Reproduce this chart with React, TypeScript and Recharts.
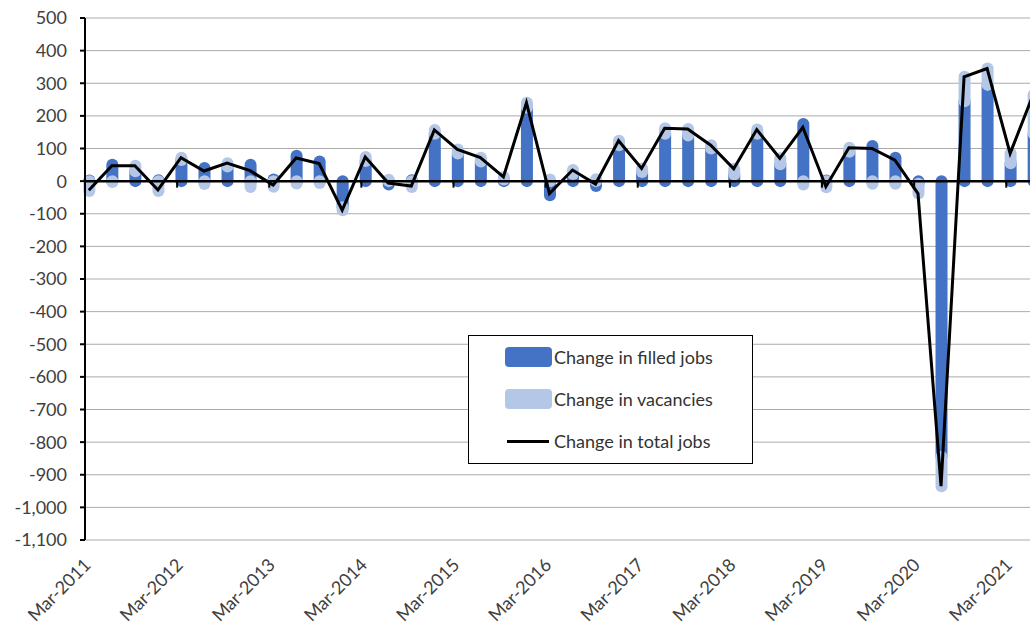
import React from "react"
import { ComposedChart, Bar, Line, XAxis, YAxis, CartesianGrid, ReferenceLine, Legend } from "recharts"

const quarters = [
  "Mar-2011", "Jun-2011", "Sep-2011", "Dec-2011",
  "Mar-2012", "Jun-2012", "Sep-2012", "Dec-2012",
  "Mar-2013", "Jun-2013", "Sep-2013", "Dec-2013",
  "Mar-2014", "Jun-2014", "Sep-2014", "Dec-2014",
  "Mar-2015", "Jun-2015", "Sep-2015", "Dec-2015",
  "Mar-2016", "Jun-2016", "Sep-2016", "Dec-2016",
  "Mar-2017", "Jun-2017", "Sep-2017", "Dec-2017",
  "Mar-2018", "Jun-2018", "Sep-2018", "Dec-2018",
  "Mar-2019", "Jun-2019", "Sep-2019", "Dec-2019",
  "Mar-2020", "Jun-2020", "Sep-2020", "Dec-2020",
  "Mar-2021", "Jun-2021",
]

// change in filled jobs, thousands
const filledJobs = [
  2, 50, 30, 3, 65, 40, 45, 50, 5, 78, 60, -80,
  62, -10, 3, 145, 85, 60, 5, 225, -43, 22, -15, 110,
  28, 145, 140, 100, 20, 145, 52, 175, 2, 90, 108, 72,
  -8, -845, 245, 295, 55, 145,
]

// change in vacancies
const vacancies = [
  -30, -3, 17, -30, 7, -9, 10, -18, -17, -7, -6, -9,
  12, 4, -18, 12, 12, 12, 8, 15, 5, 12, 6, 14,
  11, 17, 20, 10, 18, 13, 18, -10, -19, 12, -8, -8,
  -30, -90, 75, 50, 30, 120,
]

// change in total jobs (line)
const totalJobs = [
  -28, 47, 47, -27, 72, 31, 55, 32, -12, 71, 54, -89,
  74, -6, -15, 157, 97, 72, 13, 240, -38, 34, -9, 124,
  39, 162, 160, 110, 38, 158, 70, 165, -17, 102, 100, 64,
  -38, -935, 320, 345, 85, 265,
]

const yTicks = [500, 400, 300, 200, 100, 0, -100, -200, -300, -400, -500, -600, -700, -800, -900, -1000, -1100]

// date axis in months from Mar-2011; ticks every March
const yearTicks = [0, 12, 24, 36, 48, 60, 72, 84, 96, 108, 120]

const data = quarters.map((q, i) => ({
  quarter: q,
  month: i * 3 + 0.5,
  filled: filledJobs[i],
  vacancies: vacancies[i],
  total: totalJobs[i],
}))

const FONT = "Lato, 'Open Sans', sans-serif"
const DARK = "#4472C4"
const LIGHT = "#B4C7E7"

// bars drawn as capsules, like the rounded outline in the original
const Capsule = (props: any) => {
  const { x, y, width, height, fill } = props
  if (x == null || y == null) return null
  const top = Math.min(y, y + height)
  const h = Math.abs(height)
  const r = width / 2
  return <rect x={x} y={top - r} width={width} height={h + 2 * r} rx={r} ry={r} fill={fill} />
}

const DateTick = (props: any) => {
  const { x, y, payload } = props
  const ex = x + 7
  const ey = y + 26
  return (
    <text x={ex} y={ey} transform={`rotate(-45 ${ex} ${ey})`} textAnchor="end" fill="#404040" fontSize={18} fontFamily={FONT}>
      {quarters[Math.round(payload.value / 3)]}
    </text>
  )
}

const legendItems = [
  { label: "Change in filled jobs", color: DARK, type: "bar" },
  { label: "Change in vacancies", color: LIGHT, type: "bar" },
  { label: "Change in total jobs", color: "#000", type: "line" },
]

const LegendBox = () => (
  <div
    style={{
      width: 285,
      height: 129,
      boxSizing: "border-box",
      border: "1.5px solid #000",
      background: "#fff",
      fontFamily: FONT,
      fontSize: 18,
      color: "#333",
    }}
  >
    {legendItems.map((it) => (
      <div key={it.label} style={{ height: 42, display: "flex", alignItems: "center", paddingLeft: 36 }}>
        {it.type === "bar" ? (
          <span style={{ width: 47, height: 20, borderRadius: 4, background: it.color, marginRight: 2 }} />
        ) : (
          <span style={{ width: 42, height: 3, background: it.color, marginLeft: 2, marginRight: 5 }} />
        )}
        <span>{it.label}</span>
      </div>
    ))}
  </div>
)

export default function App() {
  return (
    <div style={{ position: "absolute", left: 0, top: 0, width: 1030, height: 627, overflow: "hidden", background: "#fff", fontFamily: FONT }}>
      <ComposedChart
        width={1037}
        height={627}
        data={data}
        stackOffset="sign"
        margin={{ top: 18, right: 0, left: 0, bottom: 0 }}
      >
        <CartesianGrid horizontal vertical={false} stroke="#ababab" strokeWidth={1} />
        <XAxis
          dataKey="month"
          type="number"
          domain={[0, 124]}
          ticks={yearTicks}
          interval={0}
          height={87}
          axisLine={false}
          tickLine={false}
          tickSize={0}
          tickMargin={0}
          tick={<DateTick />}
        />
        <YAxis
          type="number"
          domain={[-1100, 500]}
          ticks={yTicks}
          interval={0}
          width={85}
          axisLine={{ stroke: "#000", strokeWidth: 2 }}
          tickLine={{ stroke: "#000", strokeWidth: 2 }}
          tickSize={5}
          tickMargin={13}
          tick={{ fill: "#404040", fontSize: 18, fontFamily: FONT }}
          tickFormatter={(v: number) => v.toLocaleString("en-US")}
        />
        <Bar dataKey="filled" stackId="a" fill={DARK} barSize={12} shape={<Capsule />} isAnimationActive={false} />
        <Bar dataKey="vacancies" stackId="a" fill={LIGHT} barSize={12} shape={<Capsule />} isAnimationActive={false} />
        <ReferenceLine y={0} stroke="#000" strokeWidth={2.5} />
        {yearTicks.slice(1).map((m) => (
          <ReferenceLine key={m} segment={[{ x: m, y: 0 }, { x: m, y: -20 }]} stroke="#000" strokeWidth={2} />
        ))}
        <Line
          dataKey="total"
          type="linear"
          stroke="#000"
          strokeWidth={3}
          dot={false}
          activeDot={false}
          isAnimationActive={false}
        />
        <Legend
          content={<LegendBox />}
          layout="horizontal"
          verticalAlign="middle"
          align="center"
          wrapperStyle={{ left: 468, top: 335, width: 285, height: 129 }}
        />
      </ComposedChart>
    </div>
  )
}
